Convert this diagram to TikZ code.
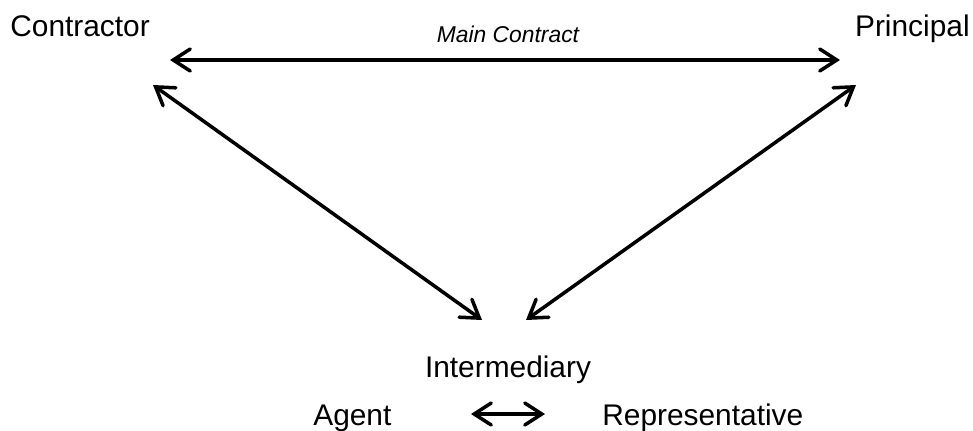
\documentclass[tikz,border=0pt]{standalone}
\usepackage{fontspec}
\setmainfont{Liberation Sans}
\usetikzlibrary{arrows.meta}
\tikzset{
  party/.style={inner sep=0pt, font=\fontsize{17}{20}\selectfont},
  link/.style={line width=2pt, {Straight Barb[length=3.4mm, width=4.4mm, line width=2pt, line cap=round]}-{Straight Barb[length=3.4mm, width=4.4mm, line width=2pt, line cap=round]}},
}
\begin{document}
\begin{tikzpicture}[x=0.02cm, y=-0.02cm]
            \useasboundingbox (0, 0) rectangle (973, 430);
            % parties
            \node[party, anchor=base west] (contractor) at (10, 36) {Contractor};
            \node[party, anchor=base east] (principal) at (970, 36) {Principal};
            \node[party, anchor=base] (intermediary) at (508, 377) {Intermediary};
            \node[party, anchor=base west] (agent) at (313, 425) {Agent};
            \node[party, anchor=base west] (representative) at (602, 425) {Representative};
            \node[inner sep=0pt, anchor=base, font=\fontsize{13}{15}\selectfont\itshape] (contract) at (508, 42) {Main Contract};
            % arrow ends
            \coordinate (c1) at (170, 60);
            \coordinate (p1) at (840, 60);
            \coordinate (c2) at (153, 85);
            \coordinate (p2) at (856, 85);
            \coordinate (i1) at (482, 320);
            \coordinate (i2) at (526, 320);
            \coordinate (a1) at (471, 414);
            \coordinate (r1) at (545, 414);
            \draw[link] (c1) -- (p1);
            \draw[link] (c2) -- (i1);
            \draw[link] (p2) -- (i2);
            \draw[link] (a1) -- (r1);
        \end{tikzpicture}
\end{document}
